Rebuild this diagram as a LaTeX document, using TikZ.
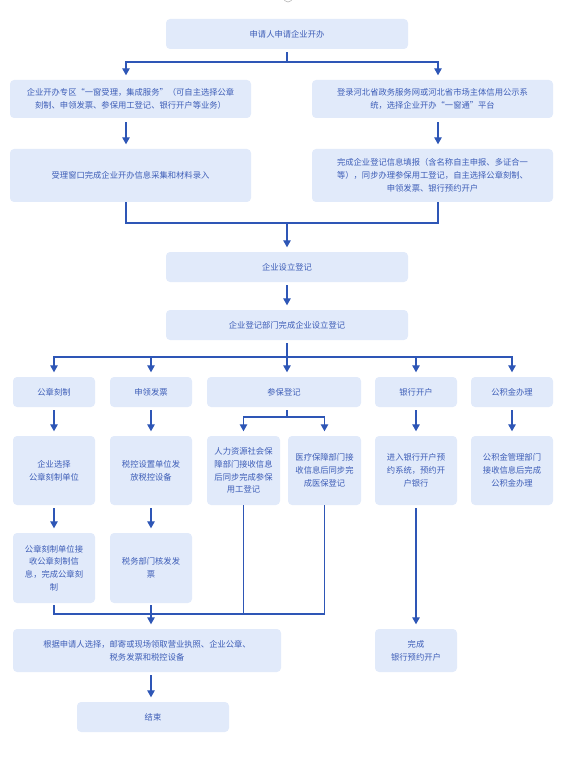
\documentclass[tikz,border=0pt]{standalone}
\usepackage{fontspec}
\setmainfont{Noto Sans CJK SC}
\usetikzlibrary{arrows.meta}
\definecolor{boxfill}{HTML}{E1EAFA}
\definecolor{txt}{HTML}{3D5DB7}
\definecolor{ln}{HTML}{2E56B6}
\tikzset{
  box/.style={fill=boxfill, rounded corners=4pt, text=txt, font=\fontsize{8.3}{12.8}\selectfont, align=center, inner sep=0pt},
  conn/.style={draw=ln, line width=1.2pt},
  arr/.style={conn, -{Triangle[length=7pt,width=7.5pt]}, shorten >=4.5pt},
}
\begin{document}
\begin{tikzpicture}[x=1pt,y=-1pt]
\useasboundingbox (0,0) rectangle (575,767);
% partial icon at the top edge
\draw[gray!60, line width=0.6pt] (288,-2.5) circle (4.5pt);

% boxes
\node[box, minimum width=242pt, minimum height=30pt] (top) at (287,34) {申请人申请企业开办};
\node[box, minimum width=241pt, minimum height=38pt] (L1) at (130.5,99) {企业开办专区“一窗受理，集成服务”（可自主选择公章\\刻制、申领发票、参保用工登记、银行开户等业务）};
\node[box, minimum width=241pt, minimum height=38pt] (R1) at (432.5,99) {登录河北省政务服务网或河北省市场主体信用公示系\\统，选择企业开办“一窗通”平台};
\node[box, minimum width=241pt, minimum height=53pt] (L2) at (130.5,175.5) {受理窗口完成企业开办信息采集和材料录入};
\node[box, minimum width=241pt, minimum height=53pt] (R2) at (432.5,175.5) {完成企业登记信息填报（含名称自主申报、多证合一\\等），同步办理参保用工登记，自主选择公章刻制、\\申领发票、银行预约开户};
\node[box, minimum width=242pt, minimum height=30pt] (reg1) at (287,267) {企业设立登记};
\node[box, minimum width=242pt, minimum height=30pt] (reg2) at (287,325) {企业登记部门完成企业设立登记};

\node[box, minimum width=82pt, minimum height=30pt] (c1) at (54,392) {公章刻制};
\node[box, minimum width=82pt, minimum height=30pt] (c2) at (151,392) {申领发票};
\node[box, minimum width=154pt, minimum height=30pt] (c3) at (284,392) {参保登记};
\node[box, minimum width=82pt, minimum height=30pt] (c4) at (416,392) {银行开户};
\node[box, minimum width=82pt, minimum height=30pt] (c5) at (512,392) {公积金办理};

\node[box, minimum width=82pt, minimum height=69pt] (d1) at (54,470.5) {企业选择\\公章刻制单位};
\node[box, minimum width=82pt, minimum height=69pt] (d2) at (151,470.5) {税控设置单位发\\放税控设备};
\node[box, minimum width=73pt, minimum height=69pt] (s1) at (243.5,470.5) {人力资源社会保\\障部门接收信息\\后同步完成参保\\用工登记};
\node[box, minimum width=73pt, minimum height=69pt] (s2) at (324.5,470.5) {医疗保障部门接\\收信息后同步完\\成医保登记};
\node[box, minimum width=82pt, minimum height=69pt] (d4) at (416,470.5) {进入银行开户预\\约系统，预约开\\户银行};
\node[box, minimum width=82pt, minimum height=69pt] (d5) at (512,470.5) {公积金管理部门\\接收信息后完成\\公积金办理};

\node[box, minimum width=82pt, minimum height=70pt] (e1) at (54,568) {公章刻制单位接\\收公章刻制信\\息，完成公章刻\\制};
\node[box, minimum width=82pt, minimum height=70pt] (e2) at (151,568) {税务部门核发发\\票};

\node[box, minimum width=268pt, minimum height=43pt] (final) at (147,650.5) {根据申请人选择，邮寄或现场领取营业执照、企业公章、\\税务发票和税控设备};
\node[box, minimum width=82pt, minimum height=43pt] (bank) at (416,650.5) {完成\\银行预约开户};
\node[box, minimum width=152pt, minimum height=30pt] (end) at (153,717) {结束};

% connectors
\coordinate (j1) at (287,62);
\draw[conn, shorten <=3pt] (top.south) -- (j1);
\draw[arr] (j1) -| ([xshift=-4.5pt]L1.north);
\draw[arr] (j1) -| ([xshift=5.5pt]R1.north);
\draw[arr, shorten <=4pt] ([xshift=-4.5pt]L1.south) -- ([xshift=-4.5pt]L2.north);
\draw[arr, shorten <=4pt] ([xshift=5.5pt]R1.south) -- ([xshift=5.5pt]R2.north);

\coordinate (j2) at (287,223);
\draw[conn] ([xshift=-4.5pt]L2.south) |- ([xshift=5.5pt]R2.south |- j2) -- ([xshift=5.5pt]R2.south);
\draw[arr] (j2) -- (reg1.north);
\draw[arr, shorten <=3pt] (reg1.south) -- (reg2.north);

\coordinate (j3) at (287,357);
\draw[conn, shorten <=3pt] (reg2.south) -- (j3);
\draw[arr] (j3) -| (c1.north);
\draw[arr] (j3) -| (c2.north);
\draw[arr] (j3) -- (j3 |- c3.north);
\draw[arr] (j3) -| (c4.north);
\draw[arr] (j3) -| (c5.north);

\coordinate (j4) at (287,417);
\draw[conn, shorten <=3pt] (c3.south -| j4) -- (j4);
\draw[arr] (j4) -| (s1.north);
\draw[arr] (j4) -| (s2.north);

\draw[arr, shorten <=3pt] (c1.south) -- (d1.north);
\draw[arr, shorten <=3pt] (c2.south) -- (d2.north);
\draw[arr, shorten <=3pt] (c4.south) -- (d4.north);
\draw[arr, shorten <=3pt] (c5.south) -- (d5.north);
\draw[arr, shorten <=3pt] (d1.south) -- (e1.north);
\draw[arr, shorten <=3pt] (d2.south) -- (e2.north);
\draw[arr, shorten <=3pt] (d4.south) -- (bank.north);

\coordinate (j5) at (324.5,614);
\draw[conn, shorten <=2pt] (e1.south) |- (j5) -- (s2.south);
\draw[conn] (s1.south) -- (s1.south |- j5);
\draw[arr, shorten <=2pt] (e2.south) -- (e2.south |- final.north);
\draw[arr, shorten <=3pt] (final.south -| e2.south) -- (end.north -| e2.south);
\end{tikzpicture}
\end{document}
